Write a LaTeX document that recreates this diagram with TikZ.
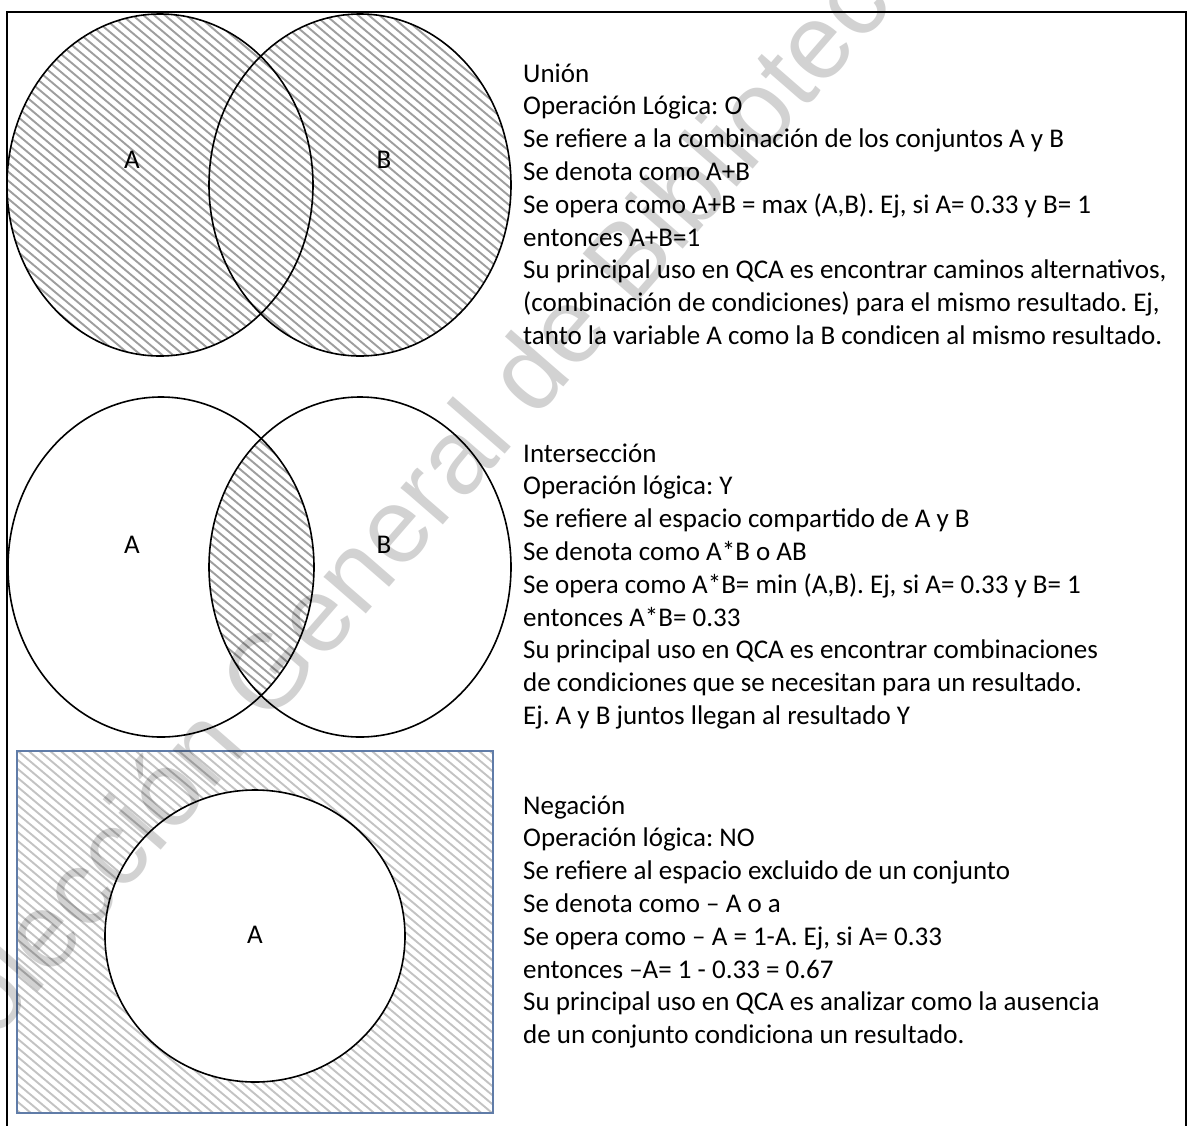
\documentclass[tikz,border=0pt]{standalone}
\usepackage{fontspec}
\setmainfont{Carlito}
\newfontfamily\wmfont{Liberation Sans}
\definecolor{rectblue}{RGB}{96,124,168}
\definecolor{hatchdark}{RGB}{158,158,158}
\definecolor{hatchlight}{RGB}{195,195,195}
\definecolor{wmgray}{RGB}{210,210,210}

% diagonal hatching centred on (#1,#2), drawn with style #3
\newcommand\hatchfill[3]{%
  \foreach \k in {-80,...,80}
    \draw[#3] ({#1-460},{#2+\k*9-386}) -- ({#1+460},{#2+\k*9+386});%
}

\begin{document}
\frenchspacing
\begin{tikzpicture}[x=1pt,y=-1pt,
  outline/.style={draw=black,line width=1.6pt},
  darkhatch/.style={draw=hatchdark,line width=1.9pt},
  lighthatch/.style={draw=hatchlight,line width=1.9pt},
  txt/.style={anchor=base west,inner sep=0pt,font=\fontsize{27}{32.8}\selectfont},
  setlabel/.style={anchor=center,inner sep=0pt,font=\fontsize{27}{32.8}\selectfont},
  watermark/.style={text=wmgray,inner sep=0pt,font=\wmfont\fontsize{106}{110}\selectfont}]

\useasboundingbox (0,0) rectangle (1189,1125);
\fill[white] (0,0) rectangle (1189,1125);

% outer frame (open at the bottom edge)
\draw[line width=2.2pt] (7,1130) -- (7,12) -- (1186,12) -- (1186,1130);

% ---------- union ----------
\begin{scope}
  \clip (160,185) ellipse [x radius=153, y radius=171]
        (360,185) ellipse [x radius=151, y radius=171];
  \hatchfill{260}{185}{darkhatch}
\end{scope}
\draw[outline] (160,185) ellipse [x radius=153, y radius=171];
\draw[outline] (360,185) ellipse [x radius=151, y radius=171];
\node[setlabel] (uA) at (132,160) {A};
\node[setlabel] (uB) at (384,160) {B};

% ---------- intersection ----------
\begin{scope}
  \clip (161,567) ellipse [x radius=153, y radius=170];
  \clip (360,567) ellipse [x radius=151, y radius=170];
  \hatchfill{260}{567}{darkhatch}
\end{scope}
\draw[outline] (161,567) ellipse [x radius=153, y radius=170];
\draw[outline] (360,567) ellipse [x radius=151, y radius=170];
\node[setlabel] (iA) at (132,545) {A};
\node[setlabel] (iB) at (384,545) {B};

% ---------- negation ----------
\begin{scope}
  \clip (17,751) rectangle (493,1113);
  \hatchfill{255}{932}{lighthatch}
\end{scope}
\fill[white] (255,936) ellipse [x radius=150, y radius=146];
\draw[outline] (255,936) ellipse [x radius=150, y radius=146];
\draw[draw=rectblue,line width=1.4pt] (17,751) rectangle (493,1113);
\node[setlabel] (nA) at (255,935) {A};

% ---------- descriptions ----------
\foreach \t [count=\i from 0] in {
  {Unión},
  {Operación Lógica: O},
  {Se refiere a la combinación de los conjuntos A y B},
  {Se denota como A+B},
  {Se opera como A+B = max (A,B). Ej, si A= 0.33 y B= 1},
  {entonces A+B=1},
  {Su principal uso en QCA es encontrar caminos alternativos,},
  {(combinación de condiciones) para el mismo resultado. Ej,},
  {tanto la variable A como la B condicen al mismo resultado.}}
  \node[txt] (u\i) at (523,{82+\i*32.8}) {\t};

\foreach \t [count=\i from 0] in {
  {Intersección},
  {Operación lógica: Y},
  {Se refiere al espacio compartido de A y B},
  {Se denota como A*B o AB},
  {Se opera como A*B= min (A,B). Ej, si A= 0.33 y B= 1},
  {entonces A*B= 0.33},
  {Su principal uso en QCA es encontrar combinaciones},
  {de condiciones que se necesitan para un resultado.},
  {Ej. A y B juntos llegan al resultado Y}}
  \node[txt] (i\i) at (523,{462+\i*32.8}) {\t};

\foreach \t [count=\i from 0] in {
  {Negación},
  {Operación lógica: NO},
  {Se refiere al espacio excluido de un conjunto},
  {Se denota como – A o a},
  {Se opera como – A = 1-A. Ej, si A= 0.33},
  {entonces –A= 1 - 0.33 = 0.67},
  {Su principal uso en QCA es analizar como la ausencia},
  {de un conjunto condiciona un resultado.}}
  \node[txt] (n\i) at (523,{814+\i*32.8}) {\t};

% ---------- watermark ----------
\begin{scope}[blend mode=multiply]
  \node[watermark,rotate=49] (wm) at (410,505) {Colección General de Biblioteca};
\end{scope}

\end{tikzpicture}
\end{document}
